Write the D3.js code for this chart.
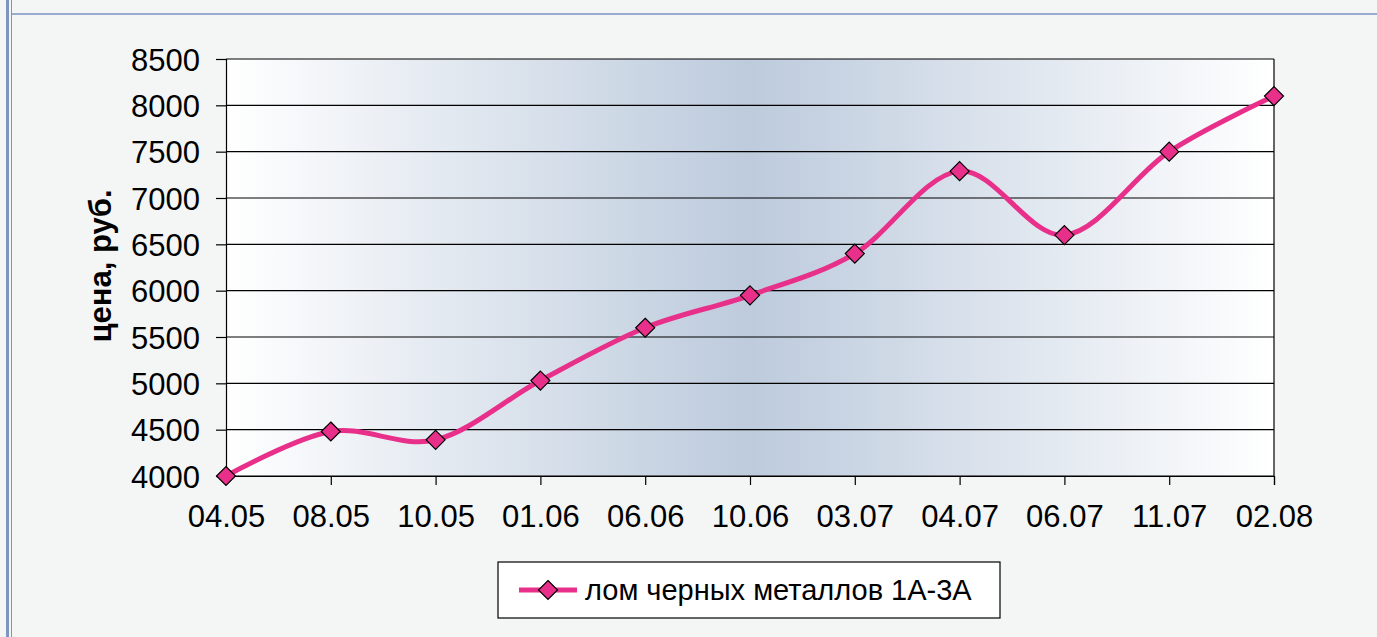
<!DOCTYPE html>
<html>
<head>
<meta charset="utf-8">
<script src="https://cdn.jsdelivr.net/npm/d3@7"></script>
<style>
  html, body { margin: 0; padding: 0; background: #f4f6f6; }
  svg { display: block; font-family: "Liberation Sans", Arial, sans-serif; }
</style>
</head>
<body>
<svg id="chart" width="1377" height="637"></svg>
<script>
const dates = ['04.05', '08.05', '10.05', '01.06', '06.06', '10.06', '03.07', '04.07', '06.07', '11.07', '02.08'];
const prices = [4000, 4480, 4390, 5030, 5600, 5950, 6400, 7290, 6600, 7500, 8100];
const yTicks = [4000, 4500, 5000, 5500, 6000, 6500, 7000, 7500, 8000, 8500];
const seriesName = 'лом черных металлов 1А-3А';
const axisTitle = 'цена, руб.';

const svgElement = document.getElementById('chart');
const svg = d3.select(svgElement);

const width = 1377, height = 637;
const margin = { top: 59, right: 103, bottom: 161, left: 226 };
const innerWidth = width - margin.left - margin.right;
const innerHeight = height - margin.top - margin.bottom;

// frame lines of the surrounding page
svg.append('rect').attr('x', 6).attr('y', 0).attr('width', 3).attr('height', height).attr('fill', '#7d95bf');
svg.append('rect').attr('x', 11).attr('y', 0).attr('width', 1).attr('height', height).attr('fill', '#7d95bf');
svg.append('rect').attr('x', 12).attr('y', 13).attr('width', width - 12).attr('height', 2).attr('fill', '#98acd0');

// gradient for plot area
const defs = svg.append('defs');
const grad = defs.append('linearGradient').attr('id', 'bg').attr('x1', '0%').attr('x2', '100%').attr('y1', '0%').attr('y2', '0%');
grad.append('stop').attr('offset', '0%').attr('stop-color', '#ffffff');
grad.append('stop').attr('offset', '50%').attr('stop-color', '#bdcbdd');
grad.append('stop').attr('offset', '100%').attr('stop-color', '#ffffff');

const x = d3.scalePoint().domain(dates).range([0, innerWidth]);
const y = d3.scaleLinear().domain([4000, 8500]).range([innerHeight, 0]);

const g = svg.append('g').attr('transform', `translate(${margin.left},${margin.top})`);

g.append('rect')
  .attr('width', innerWidth).attr('height', innerHeight)
  .attr('fill', 'url(#bg)');

// gridlines
g.selectAll('.grid')
  .data(yTicks)
  .join('line')
  .attr('x1', 0).attr('x2', innerWidth)
  .attr('y1', d => y(d)).attr('y2', d => y(d))
  .attr('stroke', '#000').attr('stroke-width', 1.2);

// right border
g.append('line')
  .attr('x1', innerWidth).attr('x2', innerWidth)
  .attr('y1', 0).attr('y2', innerHeight)
  .attr('stroke', '#000').attr('stroke-width', 1.2);

// axes
const yAxis = g.append('g')
  .call(d3.axisLeft(y).tickValues(yTicks).tickSize(10).tickPadding(16).tickFormat(d3.format('d')));
const xAxis = g.append('g')
  .attr('transform', `translate(0,${innerHeight})`)
  .call(d3.axisBottom(x).tickSize(9).tickPadding(20));

[yAxis, xAxis].forEach(a => {
  a.attr('font-size', 31).attr('font-family', '"Liberation Sans", Arial, sans-serif');
  a.select('.domain').attr('stroke', '#000').attr('stroke-width', 1.2);
  a.selectAll('.tick line').attr('stroke', '#000').attr('stroke-width', 1.2);
  a.selectAll('.tick text').attr('fill', '#000');
});
yAxis.selectAll('.tick text').attr('dy', '0.36em');

// axis title
g.append('text')
  .attr('transform', 'rotate(-90)')
  .attr('x', -(266 - margin.top))
  .attr('y', 111 - margin.left)
  .attr('text-anchor', 'middle')
  .attr('font-size', 31)
  .attr('font-weight', 'bold')
  .text(axisTitle);

// smoothed line
const points = dates.map((d, i) => ({ date: d, value: prices[i] }));
const line = d3.line()
  .x(d => x(d.date))
  .y(d => y(d.value))
  .curve(d3.curveCardinal.tension(0));

g.append('path')
  .datum(points)
  .attr('d', line)
  .attr('fill', 'none')
  .attr('stroke', '#e8308a')
  .attr('stroke-width', 5);

const diamond = s => `M0,${-s}L${s},0L0,${s}L${-s},0Z`;

g.selectAll('.marker')
  .data(points)
  .join('path')
  .attr('transform', d => `translate(${x(d.date)},${y(d.value)})`)
  .attr('d', diamond(9.5))
  .attr('fill', '#e8308a')
  .attr('stroke', '#000')
  .attr('stroke-width', 1.2);

// legend
const legend = svg.append('g').attr('transform', 'translate(498,562)');
legend.append('rect')
  .attr('width', 502).attr('height', 56)
  .attr('fill', '#fff').attr('stroke', '#000').attr('stroke-width', 1.2);
legend.append('line')
  .attr('x1', 21).attr('x2', 79).attr('y1', 28).attr('y2', 28)
  .attr('stroke', '#e8308a').attr('stroke-width', 5);
legend.append('path')
  .attr('transform', 'translate(50,28)')
  .attr('d', diamond(9.5))
  .attr('fill', '#e8308a').attr('stroke', '#000').attr('stroke-width', 1.2);
legend.append('text')
  .attr('x', 87).attr('y', 28).attr('dy', '0.36em')
  .attr('font-size', 29)
  .text(seriesName);
</script>
</body>
</html>
